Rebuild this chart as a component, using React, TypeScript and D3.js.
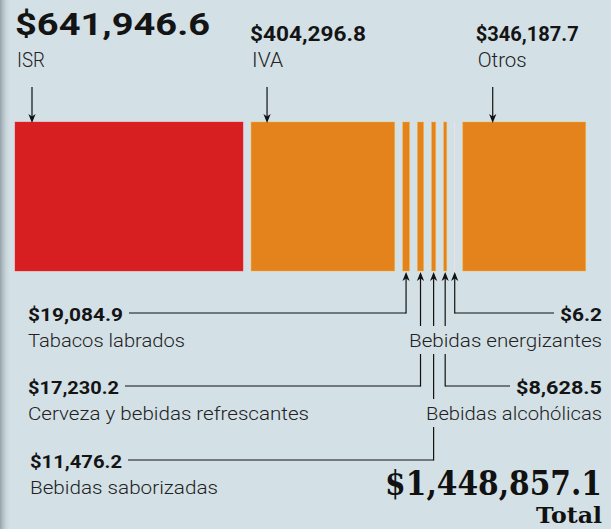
import React, { useLayoutEffect, useRef, useState } from "react";
import * as d3 from "d3";

// ---- data ----
const categories = [
  "ISR",
  "IVA",
  "Tabacos labrados",
  "Cerveza y bebidas refrescantes",
  "Bebidas saborizadas",
  "Bebidas alcohólicas",
  "Bebidas energizantes",
  "Otros",
];
const values = [641946.6, 404296.8, 19084.9, 17230.2, 11476.2, 8628.5, 6.2, 346187.7];
const totalLabel = "Total";

// ---- layout ----
const W = 611;
const H = 529;
const BG = "#d3e0e6";
const RED = "#d71e20";
const ORANGE = "#e4831b";
const X0 = 15;
const X1 = 585.7;
const GAP = 8;
const BAR_TOP = 122;
const BAR_BOTTOM = 271;

const fmt = d3.format("$,.1f");

const topAnn = [
  { i: 0, off: 17, fs: 32, vw: 195, lw: 28, vy: 35 },
  { i: 1, off: 16, fs: 21, vw: 116, lw: 31, vy: 41 },
  { i: 7, off: 30, fs: 21, vw: 103, lw: 49, vy: 41 },
];

const bottomAnn = [
  { i: 2, side: "left", x: 28, vy: 321, vw: 95, lw: 157 },
  { i: 6, side: "right", x: 602, vy: 321, vw: 42, lw: 193 },
  { i: 3, side: "left", x: 28, vy: 394, vw: 91, lw: 281 },
  { i: 5, side: "right", x: 602, vy: 394, vw: 86, lw: 176 },
  { i: 4, side: "left", x: 30, vy: 468, vw: 92, lw: 188 },
];

const SANS = "Roboto, 'Noto Sans', 'DejaVu Sans', sans-serif";
const SERIF = "'DejaVu Serif', 'Liberation Serif', serif";

function arrowPath(x: number, tipY: number, dir: 1 | -1) {
  const L = 9;
  const w = 3.6;
  const n = 6.5;
  return `M${x},${tipY} L${x - w},${tipY - dir * L} L${x},${tipY - dir * n} L${x + w},${tipY - dir * L} Z`;
}

// right-aligned text squeezed horizontally to a target width, keeping glyph height
function FitTextEnd(props: {
  x: number;
  y: number;
  width: number;
  fontSize: number;
  fontFamily: string;
  children: string;
}) {
  const ref = useRef<SVGTextElement>(null);
  const [sx, setSx] = useState(1);
  useLayoutEffect(() => {
    if (ref.current) {
      const len = ref.current.getComputedTextLength();
      if (len > 0) setSx(props.width / len);
    }
  }, [props.width, props.children]);
  return (
    <g transform={`translate(${props.x},${props.y}) scale(${sx},1)`}>
      <text
        ref={ref}
        x={0}
        y={0}
        textAnchor="end"
        fontFamily={props.fontFamily}
        fontWeight={700}
        fontSize={props.fontSize}
        fill="#111"
      >
        {props.children}
      </text>
    </g>
  );
}

export default function App() {
  const total = d3.sum(values);
  const widthScale = d3
    .scaleLinear()
    .domain([0, total])
    .range([0, X1 - X0 - GAP * (values.length - 1)]);

  const bars: { x: number; w: number; c: number; name: string; v: number }[] = [];
  let cursor = X0;
  values.forEach((v, i) => {
    const w = widthScale(v);
    bars.push({ x: cursor, w, c: cursor + w / 2, name: categories[i], v });
    cursor += w + GAP;
  });

  const breakBoxes = bottomAnn
    .filter((a) => a.side === "right")
    .map((a) => ({ x0: a.x - a.lw - 2, x1: a.x, y0: a.vy + 26 - 21, y1: a.vy + 26 + 7 }));

  const elems: React.ReactNode[] = [];

  bottomAnn.forEach((a, k) => {
    const b = bars[a.i];
    const lineY = a.vy - 8;
    const isLeft = a.side === "left";
    const lineStart = isLeft ? a.x + a.vw + 6 : a.x - a.vw - 6;
    elems.push(
      <line key={`h${k}`} x1={lineStart} x2={b.c} y1={lineY} y2={lineY} stroke="#111" strokeWidth={1.2} />
    );
    const segs: [number, number][] = [];
    let top = BAR_BOTTOM + 3;
    const gaps = breakBoxes
      .filter((bb) => b.c > bb.x0 && b.c < bb.x1 && bb.y0 > top && bb.y1 < lineY)
      .sort((p, q) => p.y0 - q.y0);
    gaps.forEach((g) => {
      segs.push([top, g.y0]);
      top = g.y1;
    });
    segs.push([top, lineY + 0.6]);
    segs.forEach((s, j) =>
      elems.push(
        <line key={`v${k}-${j}`} x1={b.c} x2={b.c} y1={s[0]} y2={s[1]} stroke="#111" strokeWidth={1.2} />
      )
    );
    elems.push(<path key={`a${k}`} d={arrowPath(b.c, BAR_BOTTOM + 1, -1)} fill="#111" />);
    elems.push(
      <text
        key={`tv${k}`}
        x={a.x}
        y={a.vy}
        textAnchor={isLeft ? "start" : "end"}
        fontFamily={SANS}
        fontWeight={700}
        fontSize={19}
        fill="#141414"
        textLength={a.vw}
        lengthAdjust="spacingAndGlyphs"
      >
        {fmt(b.v)}
      </text>
    );
    elems.push(
      <text
        key={`tl${k}`}
        x={a.x}
        y={a.vy + 26}
        textAnchor={isLeft ? "start" : "end"}
        fontFamily={SANS}
        fontWeight={300}
        fontSize={19}
        fill="#222"
        textLength={a.lw}
        lengthAdjust="spacingAndGlyphs"
      >
        {b.name}
      </text>
    );
  });

  return (
    <svg width={W} height={H} style={{ display: "block", position: "absolute", left: 0, top: 0 }}>
      <defs>
        <linearGradient id="edge" x1="0" x2="1" y1="0" y2="0">
          <stop offset="0" stopColor="#8e9ba2" stopOpacity={0.9} />
          <stop offset="1" stopColor={BG} stopOpacity={0} />
        </linearGradient>
      </defs>
      <rect x={0} y={0} width={W} height={H} fill={BG} />
      <rect x={0} y={0} width={11} height={H} fill="url(#edge)" />

      {bars.map((b, i) => {
        const fill = i === 0 ? RED : ORANGE;
        return (
          <rect
            key={`bar${i}`}
            x={b.x}
            y={BAR_TOP}
            width={b.w}
            height={BAR_BOTTOM - BAR_TOP}
            fill={fill}
            stroke={b.w < 1 ? "#ece6e0" : d3.color(fill)!.brighter(0.9).formatHex()}
            strokeOpacity={b.w < 1 ? 0.9 : 0.45}
            strokeWidth={b.w < 1 ? 1 : 0.8}
          />
        );
      })}

      {topAnn.map((a, k) => {
        const b = bars[a.i];
        const ax = b.x + a.off;
        return (
          <g key={`top${k}`}>
            <text
              x={ax - 17}
              y={a.vy}
              fontFamily={SANS}
              fontWeight={700}
              fontSize={a.fs}
              fill="#141414"
              textLength={a.vw}
              lengthAdjust="spacingAndGlyphs"
            >
              {fmt(b.v)}
            </text>
            <text
              x={ax - 15}
              y={67}
              fontFamily={SANS}
              fontWeight={300}
              fontSize={20}
              fill="#222"
              textLength={a.lw}
              lengthAdjust="spacingAndGlyphs"
            >
              {b.name}
            </text>
            <line x1={ax} x2={ax} y1={87} y2={BAR_TOP - 4} stroke="#111" strokeWidth={1.2} />
            <path d={arrowPath(ax, BAR_TOP + 1, 1)} fill="#111" />
          </g>
        );
      })}

      {elems}

      <FitTextEnd x={602} y={495} width={217} fontSize={33} fontFamily={SERIF}>
        {fmt(total)}
      </FitTextEnd>
      <FitTextEnd x={602} y={523} width={66} fontSize={23} fontFamily={SERIF}>
        {totalLabel}
      </FitTextEnd>
    </svg>
  );
}
